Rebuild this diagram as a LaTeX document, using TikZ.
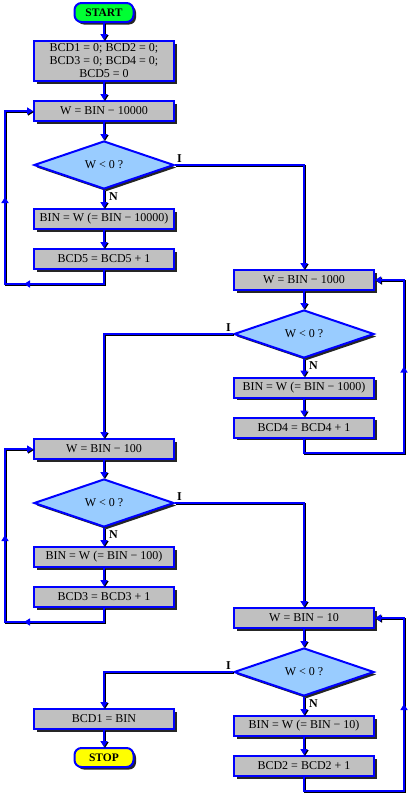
\documentclass[tikz,border=0pt]{standalone}
\usepackage{fontspec}
\setmainfont{Liberation Serif}
\usetikzlibrary{shapes.geometric, shadows, arrows.meta, decorations.markings}

\definecolor{boxgray}{HTML}{C0C0C0}
\definecolor{testblue}{HTML}{99CCFF}
\definecolor{startgreen}{HTML}{00FF33}
\definecolor{stopyellow}{HTML}{FFFF00}

\tikzset{
    flowtip/.tip={Triangle[width=7pt,length=6pt]},
    boxshadow/.style={drop shadow={shadow xshift=2.5pt, shadow yshift=-2.5pt, fill=black!85, opacity=1}},
    box/.style={rectangle, draw=blue, line width=2pt, fill=boxgray, boxshadow,
        minimum width=140pt, minimum height=20pt, inner sep=1pt, align=center,
        font=\fontsize{12}{13}\selectfont},
    test/.style={diamond, draw=blue, line width=2pt, fill=testblue, boxshadow,
        minimum width=140pt, minimum height=48pt, inner sep=0pt, aspect=2.9,
        font=\fontsize{12}{13}\selectfont},
    term/.style={rectangle, rounded corners=7pt, draw=blue, line width=2pt, boxshadow,
        minimum width=59pt, minimum height=19pt, inner sep=1pt,
        font=\bfseries\fontsize{11.5}{12}\selectfont},
    lab/.style={font=\bfseries\fontsize{12}{13}\selectfont, inner sep=2pt},
    flowline/.style={draw=blue, line width=2.5pt, -flowtip,
        preaction={draw=black, line width=2.5pt, transform canvas={shift={(1pt,-1pt)}}}},
    leftloop/.style={postaction={decorate}, decoration={markings,
        mark=at position 94pt with {\arrow{flowtip}},
        mark=at position 200pt with {\arrow{flowtip}}}},
    rightloop/.style={postaction={decorate}, decoration={markings,
        mark=at position 201pt with {\arrow{flowtip}}}},
}

\begin{document}
\begin{tikzpicture}[x=1pt, y=-1pt]
    \def\xL{104}
    \def\xR{304}
    \useasboundingbox (0,0) rectangle (410,795);

    % Start and initialisation
    \node[term, fill=startgreen] (start) at (\xL,12.5) {START};
    \node[box, minimum height=40pt] (init) at (\xL,61) {BCD1 = 0; BCD2 = 0;\\BCD3 = 0; BCD4 = 0;\\BCD5 = 0};

    % Ten thousands
    \node[box]  (w5)   at (\xL,111) {W = BIN − 10000};
    \node[test] (q5)   at (\xL,165) {W < 0 ?};
    \node[box]  (sub5) at (\xL,219) {BIN = W (= BIN − 10000)};
    \node[box]  (inc5) at (\xL,259) {BCD5 = BCD5 + 1};
    \coordinate (l5) at (5,284);

    % Thousands
    \node[box]  (w4)   at (\xR,280)   {W = BIN − 1000};
    \node[test] (q4)   at (\xR,334)   {W < 0 ?};
    \node[box]  (sub4) at (\xR,387.5) {BIN = W (= BIN − 1000)};
    \node[box]  (inc4) at (\xR,427.5) {BCD4 = BCD4 + 1};
    \coordinate (l4) at (404,453);

    % Hundreds
    \node[box]  (w3)   at (\xL,449) {W = BIN − 100};
    \node[test] (q3)   at (\xL,503) {W < 0 ?};
    \node[box]  (sub3) at (\xL,557) {BIN = W (= BIN − 100)};
    \node[box]  (inc3) at (\xL,597) {BCD3 = BCD3 + 1};
    \coordinate (l3) at (5,622);

    % Tens
    \node[box]  (w2)   at (\xR,618) {W = BIN − 10};
    \node[test] (q2)   at (\xR,672) {W < 0 ?};
    \node[box]  (sub2) at (\xR,726) {BIN = W (= BIN − 10)};
    \node[box]  (inc2) at (\xR,766) {BCD2 = BCD2 + 1};
    \coordinate (l2) at (404,791);

    % Units and stop
    \node[box]  (bcd1) at (\xL,719) {BCD1 = BIN};
    \node[term, fill=stopyellow] (stop) at (\xL,757.5) {STOP};

    % Branch labels
    \node[lab, above right] (i5) at (q5.east) {I};
    \node[lab, above left]  (i4) at (q4.west) {I};
    \node[lab, above right] (i3) at (q3.east) {I};
    \node[lab, above left]  (i2) at (q2.west) {I};
    \node[lab, below right, xshift=3pt] (n5) at (q5.south) {N};
    \node[lab, below right, xshift=3pt] (n4) at (q4.south) {N};
    \node[lab, below right, xshift=3pt] (n3) at (q3.south) {N};
    \node[lab, below right, xshift=3pt] (n2) at (q2.south) {N};

    % Straight connectors
    \foreach \a/\b in {start/init, init/w5, w5/q5, q5/sub5, sub5/inc5,
                       w4/q4, q4/sub4, sub4/inc4,
                       w3/q3, q3/sub3, sub3/inc3,
                       w2/q2, q2/sub2, sub2/inc2, bcd1/stop}
        \draw[flowline] (\a) -- (\b);

    % Exits of the tests
    \draw[flowline] (q5) -| (w4);
    \draw[flowline] (q4) -| (w3);
    \draw[flowline] (q3) -| (w2);
    \draw[flowline] (q2) -| (bcd1);

    % Loops back
    \draw[flowline, leftloop]  (inc5) |- (l5) |- (w5);
    \draw[flowline, rightloop] (inc4) |- (l4) |- (w4);
    \draw[flowline, leftloop]  (inc3) |- (l3) |- (w3);
    \draw[flowline, rightloop] (inc2) |- (l2) |- (w2);
\end{tikzpicture}
\end{document}
